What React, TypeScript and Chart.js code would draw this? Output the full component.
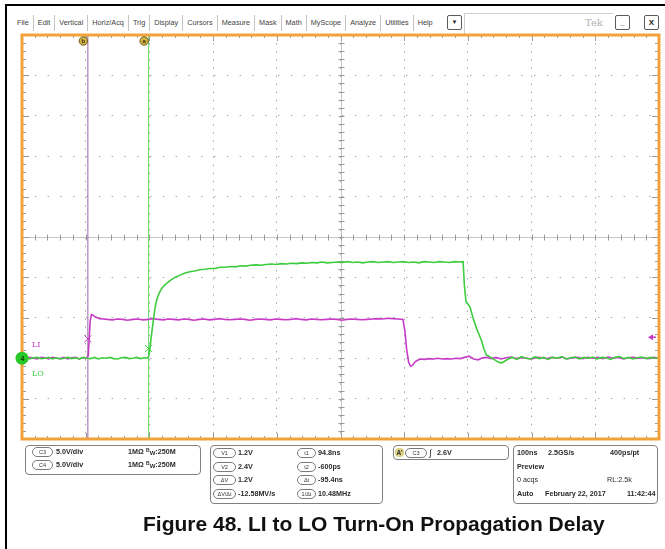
import React, { useEffect, useRef } from "react";
import { Chart, registerables } from "chart.js";

Chart.register(...registerables);

// ---------------- data ----------------
// time axis: 100 ns/div, 10 divisions (ns, relative to trigger)
const timeDivisions = [-104, -4, 96, 196, 296, 396, 496, 596, 696, 796, 896];
// voltage axis: 5 V/div, ground two divisions above the bottom
const voltDivisions = [-10, -5, 0, 5, 10, 15, 20, 25, 30, 35, 40];

// LI (channel 3, magenta)
const liTime = [
  -104, -98, -92, -86, -80, -74, -68, -62, -56, -50,
  -44, -38, -32, -26, -20, -14, -8, -3, 0, 1.5,
  3, 5, 7, 10, 14, 18, 24, 30, 38, 46,
  54, 62, 70, 78, 86, 94, 102, 110, 118, 126,
  134, 142, 150, 158, 166, 174, 182, 190, 198, 206,
  214, 222, 230, 238, 246, 254, 262, 270, 278, 286,
  294, 302, 310, 318, 326, 334, 342, 350, 358, 366,
  374, 382, 390, 398, 406, 414, 422, 430, 438, 446,
  454, 462, 470, 478, 486, 494, 497, 500, 503, 506,
  509, 513, 517, 522, 528, 535, 542, 549, 556, 563,
  570, 577, 584, 591, 598, 605, 612, 619, 626, 633,
  640, 648, 656, 664, 672, 680, 688, 696, 704, 712,
  720, 728, 736, 744, 752, 760, 768, 776, 784, 792,
  800, 808, 816, 824, 832, 840, 848, 856, 864, 872,
  880, 888, 896,
];
const liVolts = [
  0.05, -0.1, 0.1, 0.0, -0.1, 0.1, 0.05, -0.1, 0.1, 0.0,
  -0.05, 0.1, -0.1, 0.05, 0.1, -0.1, 0.05, 0.0, 0.3, 2.4,
  4.6, 5.4, 5.35, 5.15, 5.0, 4.9, 4.85, 4.8, 4.75, 4.85,
  4.8, 4.7, 4.8, 4.85, 4.75, 4.8, 4.9, 4.8, 4.75, 4.85,
  4.8, 4.75, 4.85, 4.8, 4.7, 4.8, 4.85, 4.75, 4.8, 4.9,
  4.8, 4.75, 4.8, 4.85, 4.8, 4.7, 4.8, 4.85, 4.8, 4.75,
  4.85, 4.8, 4.75, 4.8, 4.9, 4.8, 4.75, 4.85, 4.8, 4.75,
  4.8, 4.85, 4.8, 4.7, 4.8, 4.85, 4.8, 4.75, 4.8, 4.85,
  4.9, 4.85, 4.95, 4.9, 4.85, 4.8, 3.4, 1.0, -0.5, -1.0,
  -0.9, -0.45, -0.25, -0.1, -0.15, -0.05, -0.1, 0.0, -0.1, -0.05,
  -0.1, 0.0, -0.05, 0.1, 0.25, -0.1, -0.2, 0.05, 0.1, -0.05,
  0.1, -0.1, 0.05, 0.15, -0.05, 0.1, 0.0, -0.1, 0.1, 0.05,
  -0.05, 0.1, 0.0, 0.15, -0.1, 0.05, 0.1, -0.05, 0.1, 0.0,
  0.1, -0.05, 0.15, 0.0, 0.1, -0.1, 0.05, 0.1, 0.0, 0.05,
  -0.05, 0.1, 0.0,
];

// LO (channel 4, green)
const loTime = [
  -104, -98, -92, -86, -80, -74, -68, -62, -56, -50,
  -44, -38, -32, -26, -20, -14, -8, -2, 4, 10,
  16, 22, 28, 34, 40, 46, 52, 58, 64, 70,
  76, 82, 88, 93, 95, 96.5, 98, 99.5, 102, 104.5,
  106.5, 109, 112, 115, 120, 125, 130, 136, 143, 151,
  159, 167, 175, 183, 191, 199, 207, 215, 223, 231,
  239, 247, 255, 263, 271, 279, 287, 295, 303, 311,
  319, 327, 335, 343, 351, 359, 367, 375, 383, 391,
  399, 407, 415, 423, 431, 439, 447, 455, 463, 471,
  479, 487, 495, 503, 511, 519, 527, 535, 543, 551,
  559, 567, 575, 583, 588.5, 590.5, 593, 596, 599.5, 604,
  610, 617, 621, 625, 632, 638, 643, 648, 653, 659,
  666, 673, 680, 687, 694, 701, 708, 715, 722, 729,
  736, 743, 750, 757, 764, 771, 778, 785, 792, 799,
  806, 813, 820, 827, 834, 841, 848, 855, 862, 869,
  876, 883, 890, 896,
];
const loVolts = [
  0.0, 0.1, -0.1, 0.05, 0.1, -0.05, 0.0, 0.1, -0.1, 0.05,
  -0.1, 0.0, 0.1, -0.05, 0.05, -0.1, 0.1, 0.0, -0.05, 0.1,
  -0.1, 0.05, 0.0, 0.1, -0.05, -0.1, 0.05, 0.1, -0.05, 0.0,
  0.1, -0.05, 0.05, 0.0, 0.3, 1.0, 2.0, 3.0, 4.6, 6.0,
  6.9, 7.6, 8.15, 8.6, 9.05, 9.4, 9.7, 10.0, 10.25, 10.5,
  10.7, 10.8, 10.95, 11.0, 11.1, 11.1, 11.25, 11.25, 11.35, 11.3,
  11.45, 11.4, 11.5, 11.55, 11.5, 11.6, 11.65, 11.6, 11.7, 11.65,
  11.75, 11.7, 11.8, 11.75, 11.85, 11.8, 11.9, 11.8, 11.85, 11.9,
  11.85, 11.95, 11.85, 11.9, 11.8, 11.9, 11.95, 11.85, 11.9, 11.95,
  11.85, 11.9, 11.95, 11.85, 11.9, 11.8, 11.95, 11.9, 11.85, 11.95,
  11.9, 11.85, 11.95, 11.9, 11.95, 9.0, 7.0, 6.7, 6.3, 5.0,
  3.6, 2.25, 1.2, 0.4, 0.1, -0.2, -0.45, -0.6, -0.4, -0.1,
  0.1, -0.15, 0.2, 0.0, -0.1, 0.15, -0.05, 0.1, -0.15, 0.1,
  0.0, 0.2, -0.1, 0.05, 0.15, -0.1, 0.1, 0.0, 0.15, -0.1,
  0.1, 0.05, -0.15, 0.1, 0.2, -0.05, 0.1, -0.1, 0.05, 0.15,
  -0.05, 0.1, 0.0, 0.05,
];

const cursorTimes = [94.8, -0.6]; // t1 (LO cursor), t2 (LI cursor)
const cursorVolts = [1.2, 2.4]; // V1, V2
const triggerLevel = 2.6;
const channelLabels = ["LI", "LO"];

const menuItems = ["File", "Edit", "Vertical", "Horiz/Acq", "Trig", "Display", "Cursors", "Measure", "Mask", "Math", "MyScope", "Analyze", "Utilities", "Help"];
const chanRows = [["C3", "5.0V/div"], ["C4", "5.0V/div"]];
const measLeft = [["V1", "1.2V"], ["V2", "2.4V"], ["ΔV", "1.2V"], ["ΔV/Δt", "-12.58MV/s"]];
const measRight = [["t1", "94.8ns"], ["t2", "-600ps"], ["Δt", "-95.4ns"], ["1/Δt", "10.48MHz"]];
const caption = "Figure 48. LI to LO Turn-On Propagation Delay";

// ---------------- styles ----------------
const LI_COLOR = "#c63cc6";
const LO_COLOR = "#3fcc3f";
const LI_CURSOR = "#9c64a8";
const LO_CURSOR = "#62d862";
const FRAME = "#f2a23a";

const scopePlugin = {
  id: "scopeDecor",
  beforeDatasetsDraw(chart: any) {
    const { ctx, chartArea: a, scales } = chart;
    const xs = scales.x;
    const ys = scales.y;
    ctx.save();
    const cx = Math.round(xs.getPixelForValue(timeDivisions[5])) + 0.5;
    const cy = Math.round(ys.getPixelForValue(voltDivisions[5])) + 0.5;
    ctx.strokeStyle = "#c6c6c6";
    ctx.lineWidth = 1;
    ctx.beginPath();
    ctx.moveTo(a.left, cy);
    ctx.lineTo(a.right, cy);
    ctx.moveTo(cx, a.top);
    ctx.lineTo(cx, a.bottom);
    ctx.stroke();
    ctx.strokeStyle = "#9a9a9a";
    ctx.beginPath();
    for (let i = 0; i < timeDivisions.length - 1; i++) {
      for (let k = 0; k < 5; k++) {
        const v = timeDivisions[i] + ((timeDivisions[i + 1] - timeDivisions[i]) * k) / 5;
        const px = Math.round(xs.getPixelForValue(v)) + 0.5;
        const len = k === 0 ? 6 : 3;
        ctx.moveTo(px, a.top);
        ctx.lineTo(px, a.top + len);
        ctx.moveTo(px, a.bottom);
        ctx.lineTo(px, a.bottom - len);
        ctx.moveTo(px, cy - 3);
        ctx.lineTo(px, cy + 3);
      }
    }
    for (let i = 0; i < voltDivisions.length - 1; i++) {
      for (let k = 0; k < 5; k++) {
        const v = voltDivisions[i] + ((voltDivisions[i + 1] - voltDivisions[i]) * k) / 5;
        const py = Math.round(ys.getPixelForValue(v)) + 0.5;
        const len = k === 0 ? 7 : 4;
        ctx.moveTo(a.left, py);
        ctx.lineTo(a.left + len, py);
        ctx.moveTo(a.right, py);
        ctx.lineTo(a.right - len, py);
        ctx.moveTo(cx - 3, py);
        ctx.lineTo(cx + 3, py);
      }
    }
    ctx.stroke();
    ctx.restore();
  },
  afterDatasetsDraw(chart: any) {
    const { ctx, chartArea: a, scales } = chart;
    const xs = scales.x;
    const ys = scales.y;
    ctx.save();
    // graticule frame
    ctx.strokeStyle = FRAME;
    ctx.lineWidth = 3;
    ctx.strokeRect(a.left, a.top, a.right - a.left, a.bottom - a.top);
    // cursor handles at the top
    const handleLetters = ["a", "b"];
    cursorTimes.forEach((t, i) => {
      const px = xs.getPixelForValue(t) - 4.5;
      const py = a.top + 6;
      ctx.beginPath();
      ctx.arc(px, py, 4.2, 0, Math.PI * 2);
      ctx.fillStyle = "#d2b448";
      ctx.fill();
      ctx.strokeStyle = "#6e5a1c";
      ctx.lineWidth = 1;
      ctx.stroke();
      ctx.fillStyle = "#3a2e08";
      ctx.font = "bold 6px 'Liberation Sans', Arial, sans-serif";
      ctx.textAlign = "center";
      ctx.textBaseline = "middle";
      ctx.fillText(handleLetters[i], px, py + 0.5);
    });
    // trigger level marker on the right edge
    const ty = ys.getPixelForValue(triggerLevel);
    ctx.fillStyle = LI_COLOR;
    ctx.beginPath();
    ctx.moveTo(a.right - 11, ty);
    ctx.lineTo(a.right - 6, ty - 3);
    ctx.lineTo(a.right - 6, ty + 3);
    ctx.closePath();
    ctx.fill();
    ctx.fillRect(a.right - 7, ty - 0.75, 4, 1.5);
    // ground marker (C4) on the left edge
    const gy = ys.getPixelForValue(0);
    ctx.beginPath();
    ctx.arc(a.left, gy, 6.5, 0, Math.PI * 2);
    ctx.fillStyle = "#28c828";
    ctx.fill();
    ctx.fillStyle = "#0b3d0b";
    ctx.font = "bold 7px 'Liberation Sans', Arial, sans-serif";
    ctx.textAlign = "center";
    ctx.textBaseline = "middle";
    ctx.fillText("4", a.left + 0.5, gy + 0.5);
    ctx.restore();
  },
};

const T = ({ x, y, children, size = 7.2, bold = true, color = "#2a2a2a", style = {} }: any) => (
  <span
    style={{
      position: "absolute",
      left: x,
      top: y - 6,
      lineHeight: "12px",
      fontSize: size,
      fontWeight: bold ? "bold" : "normal",
      color,
      whiteSpace: "nowrap",
      ...style,
    }}
  >
    {children}
  </span>
);

const Pill = ({ x, y, w, children }: any) => (
  <span
    style={{
      position: "absolute",
      left: x,
      top: y - 5,
      width: w,
      height: 10,
      boxSizing: "border-box",
      border: "1px solid #7a7a7a",
      borderRadius: 5,
      fontSize: 5.5,
      lineHeight: "8px",
      textAlign: "center",
      color: "#333",
      whiteSpace: "nowrap",
    }}
  >
    {children}
  </span>
);

const Box = ({ x, y, w, h }: any) => (
  <div
    style={{
      position: "absolute",
      left: x,
      top: y,
      width: w,
      height: h,
      boxSizing: "border-box",
      border: "1px solid #808080",
      borderRadius: 4,
    }}
  />
);

const Btn = ({ x, children, size = 8 }: any) => (
  <div
    style={{
      position: "absolute",
      left: x,
      top: 15,
      width: 15,
      height: 15,
      boxSizing: "border-box",
      border: "1px solid #5a5a5a",
      borderRadius: 2,
      fontSize: size,
      lineHeight: "13px",
      textAlign: "center",
      color: "#222",
      fontWeight: "bold",
    }}
  >
    {children}
  </div>
);

export default function App() {
  const ref = useRef<HTMLCanvasElement | null>(null);

  useEffect(() => {
    if (!ref.current) return;
    const liPoints = liTime.map((t, i) => ({ x: t, y: liVolts[i] }));
    const loPoints = loTime.map((t, i) => ({ x: t, y: loVolts[i] }));
    const vMin = voltDivisions[0];
    const vMax = voltDivisions[voltDivisions.length - 1];
    const chart = new Chart(ref.current, {
      type: "line",
      data: {
        datasets: [
          {
            label: "LI crossing",
            data: [{ x: cursorTimes[1], y: cursorVolts[1] }],
            showLine: false,
            pointStyle: "crossRot",
            pointRadius: 5,
            pointBorderColor: LI_COLOR,
            pointBorderWidth: 1,
            order: 0,
          },
          {
            label: "LO crossing",
            data: [{ x: cursorTimes[0], y: cursorVolts[0] }],
            showLine: false,
            pointStyle: "crossRot",
            pointRadius: 5,
            pointBorderColor: LO_COLOR,
            pointBorderWidth: 1,
            order: 0,
          },
          {
            label: "LO",
            data: loPoints,
            borderColor: LO_COLOR,
            borderWidth: 1.6,
            pointRadius: 0,
            tension: 0,
            order: 1,
          },
          {
            label: "LI",
            data: liPoints,
            borderColor: LI_COLOR,
            borderWidth: 1.6,
            pointRadius: 0,
            tension: 0,
            order: 2,
          },
          {
            label: "t1",
            data: [
              { x: cursorTimes[0], y: vMin },
              { x: cursorTimes[0], y: vMax },
            ],
            borderColor: LO_CURSOR,
            borderWidth: 1,
            pointRadius: 0,
            order: 5,
          },
          {
            label: "t2",
            data: [
              { x: cursorTimes[1], y: vMin },
              { x: cursorTimes[1], y: vMax },
            ],
            borderColor: LI_CURSOR,
            borderWidth: 1,
            pointRadius: 0,
            order: 5,
          },
        ],
      } as any,
      options: {
        responsive: false,
        animation: false,
        devicePixelRatio: 1,
        layout: { padding: { left: 22, top: 35, right: 3, bottom: 110 } },
        plugins: { legend: { display: false }, tooltip: { enabled: false } },
        scales: {
          x: {
            type: "linear",
            min: timeDivisions[0],
            max: timeDivisions[timeDivisions.length - 1],
            afterBuildTicks: (s: any) => {
              s.ticks = timeDivisions.map((v) => ({ value: v }));
            },
            ticks: { display: false },
            grid: { color: "#a8a8a8", lineWidth: 1, drawTicks: false },
            border: { display: false, dash: [1.5, 6.6] },
          },
          y: {
            type: "linear",
            min: vMin,
            max: vMax,
            afterBuildTicks: (s: any) => {
              s.ticks = voltDivisions.map((v) => ({ value: v }));
            },
            ticks: { display: false },
            grid: { color: "#a8a8a8", lineWidth: 1, drawTicks: false },
            border: { display: false, dash: [1.5, 11.3] },
          },
        },
      } as any,
      plugins: [scopePlugin as any],
    });
    return () => chart.destroy();
  }, []);

  const rowY = (i: number) => 453 + i * 13.5;

  return (
    <div
      style={{
        position: "fixed",
        left: 0,
        top: 0,
        width: 665,
        height: 549,
        background: "#fff",
        overflow: "hidden",
        fontFamily: "'Liberation Sans', Arial, sans-serif",
      }}
    >
      {/* outer frame */}
      <div
        style={{
          position: "absolute",
          left: 5,
          top: 4,
          width: 720,
          height: 620,
          borderTop: "2px solid #000",
          borderLeft: "2px solid #000",
        }}
      />
      {/* menu bar */}
      <div
        style={{
          position: "absolute",
          left: 13,
          top: 15,
          height: 16,
          display: "flex",
          fontSize: 7.3,
          lineHeight: "16px",
          color: "#444",
        }}
      >
        {menuItems.map((m, i) => (
          <div
            key={m}
            style={{
              padding: "0 4px",
              borderRight: i < menuItems.length - 1 ? "1px solid #c4c4c4" : "none",
              whiteSpace: "nowrap",
            }}
          >
            {m}
          </div>
        ))}
      </div>
      <Btn x={447} size={6}>▼</Btn>
      <div
        style={{
          position: "absolute",
          left: 464,
          top: 13,
          width: 148,
          height: 20,
          borderTop: "1px solid #cfcfcf",
          borderLeft: "1px solid #cfcfcf",
        }}
      />
      <T x={585} y={23} size={10} bold={false} color="#b0b0b0" style={{ fontFamily: "'DejaVu Serif', serif" }}>
        Tek
      </T>
      <Btn x={615}>_</Btn>
      <Btn x={644}>X</Btn>

      <canvas ref={ref} width={665} height={549} style={{ position: "absolute", left: 0, top: 0 }} />

      {/* channel labels */}
      <T x={32} y={345} size={8} bold={false} color={LI_COLOR} style={{ fontFamily: "'DejaVu Serif', serif" }}>
        {channelLabels[0]}
      </T>
      <T x={32} y={374} size={8} bold={false} color={LO_COLOR} style={{ fontFamily: "'DejaVu Serif', serif" }}>
        {channelLabels[1]}
      </T>

      {/* channel panel */}
      <Box x={25} y={445} w={176} h={30} />
      {chanRows.map((r, i) => (
        <React.Fragment key={r[0]}>
          <Pill x={32} y={452 + i * 13} w={21}>{r[0]}</Pill>
          <T x={56} y={452 + i * 13}>{r[1]}</T>
          <T x={128} y={452 + i * 13}>1MΩ</T>
          <T x={146} y={452 + i * 13}>
            <span style={{ fontSize: 5, position: "relative", top: -2 }}>B</span>
            <span style={{ fontSize: 6, position: "relative", top: 1 }}>W</span>:250M
          </T>
        </React.Fragment>
      ))}

      {/* cursor measurement panel */}
      <Box x={210} y={445} w={173} h={59} />
      {measLeft.map((r, i) => (
        <React.Fragment key={r[0]}>
          <Pill x={213} y={rowY(i)} w={23}>{r[0]}</Pill>
          <T x={238} y={rowY(i)}>{r[1]}</T>
        </React.Fragment>
      ))}
      {measRight.map((r, i) => (
        <React.Fragment key={r[0]}>
          <Pill x={297} y={rowY(i)} w={19}>{r[0]}</Pill>
          <T x={318} y={rowY(i)}>{r[1]}</T>
        </React.Fragment>
      ))}

      {/* trigger panel */}
      <Box x={393} y={445} w={116} h={15} />
      <span
        style={{
          position: "absolute",
          left: 395,
          top: 448,
          width: 9,
          height: 9,
          borderRadius: 4,
          background: "#ddd184",
          fontSize: 6.5,
          fontWeight: "bold",
          lineHeight: "9px",
          textAlign: "center",
          color: "#333",
        }}
      >
        A'
      </span>
      <Pill x={405} y={452.5} w={22}>C3</Pill>
      <T x={429} y={452.5} size={9} bold={false}>∫</T>
      <T x={437} y={452.5}>{triggerLevel.toFixed(1)}V</T>

      {/* horizontal / acquisition panel */}
      <Box x={513} y={445} w={145} h={59} />
      <T x={517} y={rowY(0)}>100ns</T>
      <T x={548} y={rowY(0)}>2.5GS/s</T>
      <T x={610} y={rowY(0)}>400ps/pt</T>
      <T x={517} y={rowY(1)}>Preview</T>
      <T x={517} y={rowY(2)} bold={false}>0 acqs</T>
      <T x={607} y={rowY(2)} bold={false}>RL:2.5k</T>
      <T x={517} y={rowY(3)}>Auto</T>
      <T x={545} y={rowY(3)}>February 22, 2017</T>
      <T x={627} y={rowY(3)}>11:42:44</T>

      {/* caption */}
      <div
        style={{
          position: "absolute",
          left: 143,
          top: 512,
          fontSize: 21,
          lineHeight: "24px",
          fontWeight: "bold",
          color: "#111",
          whiteSpace: "nowrap",
        }}
      >
        {caption}
      </div>
    </div>
  );
}
